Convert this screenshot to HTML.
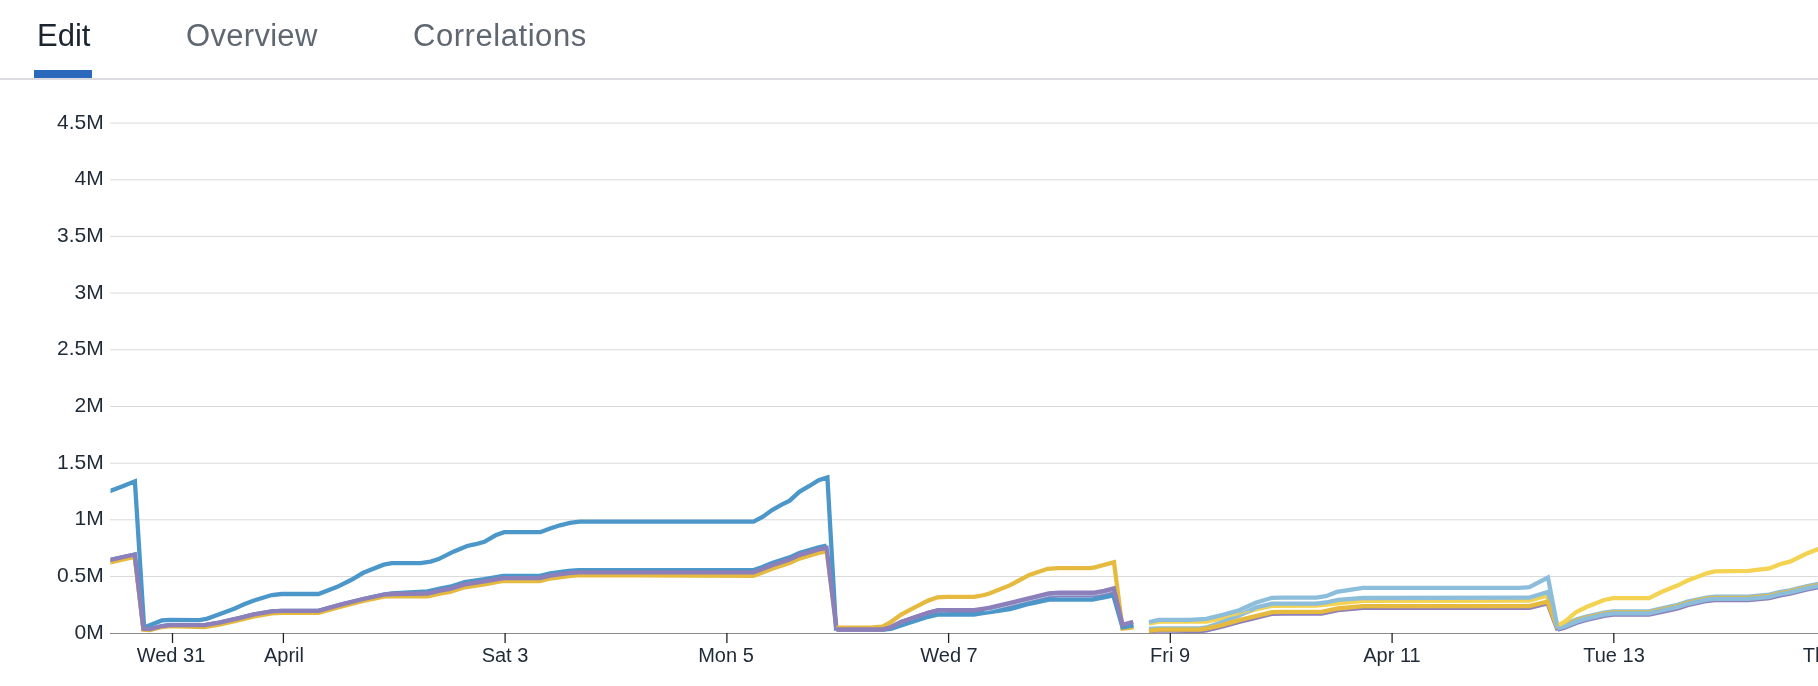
<!DOCTYPE html>
<html><head><meta charset="utf-8"><style>
html,body{margin:0;padding:0;background:#fff;width:1818px;height:686px;overflow:hidden;font-family:"Liberation Sans",sans-serif;}
.tab{will-change:transform;position:absolute;top:18px;font-size:31px;line-height:36px;letter-spacing:0.3px;color:#5f6771;white-space:nowrap}
.tab.active{color:#1a2530}
.ul{position:absolute;left:34px;top:70px;width:58px;height:8px;background:#2a69bb}
.hr{position:absolute;left:0;top:78px;width:1818px;height:2px;background:#dcdbe0}
.yl{will-change:transform;position:absolute;left:0;width:103.8px;text-align:right;font-size:21px;line-height:24px;color:#1e2a36}
.xl{will-change:transform;position:absolute;top:643px;width:200px;text-align:center;font-size:20px;line-height:24px;color:#1e2a36}
svg{position:absolute;left:0;top:0}
</style></head><body>
<div class="tab active" style="left:36.6px;letter-spacing:0">Edit</div>
<div class="tab" style="left:185.5px">Overview</div>
<div class="tab" style="left:412.8px;letter-spacing:0.55px">Correlations</div>
<div class="ul"></div>
<div class="hr"></div>
<svg width="1818" height="686" viewBox="0 0 1818 686">
<line x1="110" x2="1818" y1="576.5" y2="576.5" stroke="#dadada" stroke-width="1"/>
<line x1="110" x2="1818" y1="519.8" y2="519.8" stroke="#dadada" stroke-width="1"/>
<line x1="110" x2="1818" y1="463.2" y2="463.2" stroke="#dadada" stroke-width="1"/>
<line x1="110" x2="1818" y1="406.5" y2="406.5" stroke="#dadada" stroke-width="1"/>
<line x1="110" x2="1818" y1="349.8" y2="349.8" stroke="#dadada" stroke-width="1"/>
<line x1="110" x2="1818" y1="293.1" y2="293.1" stroke="#dadada" stroke-width="1"/>
<line x1="110" x2="1818" y1="236.4" y2="236.4" stroke="#dadada" stroke-width="1"/>
<line x1="110" x2="1818" y1="179.8" y2="179.8" stroke="#dadada" stroke-width="1"/>
<line x1="110" x2="1818" y1="123.1" y2="123.1" stroke="#dadada" stroke-width="1"/>
<defs><clipPath id="pc"><rect x="110.5" y="80" width="1720" height="560"/></clipPath></defs><g clip-path="url(#pc)">
<path d="M104.0,561.4 L110.2,560.0 L134.7,554.5 L143.4,628.6 L150.0,629.0 L161.9,626.0 L169.8,625.2 L204.5,625.2 L219.3,622.6 L239.1,618.1 L254.0,614.4 L271.8,611.3 L281.7,610.8 L318.4,610.9 L340.8,604.6 L363.3,599.0 L383.7,594.5 L391.8,593.5 L427.6,591.4 L439.9,588.5 L450.0,586.7 L464.7,582.2 L484.5,579.2 L503.3,575.9 L539.9,575.9 L550.1,573.4 L568.6,571.0 L578.5,570.1 L753.6,570.1 L762.5,566.9 L772.1,563.1 L789.7,557.4 L799.3,552.9 L818.6,547.3 L826.6,545.6" fill="none" stroke="#4c97c9" stroke-width="4.3" stroke-linejoin="miter" stroke-miterlimit="3"/>
<path d="M104.0,563.8 L110.2,562.4 L134.7,556.9 L143.4,629.6 L150.0,630.0 L161.9,627.0 L169.8,626.2 L204.5,627.2 L219.3,624.6 L239.1,620.1 L254.0,616.4 L271.8,613.3 L281.7,612.8 L318.4,612.9 L340.8,606.6 L363.3,601.0 L383.7,596.7 L391.8,596.0 L427.6,596.4 L439.9,593.6 L450.0,591.8 L464.7,587.3 L484.5,584.3 L503.3,581.0 L539.9,581.0 L550.1,578.5 L568.6,576.1 L578.5,575.2 L753.6,575.8 L762.5,572.6 L772.1,568.8 L789.7,563.1 L799.3,558.6 L818.6,553.0 L826.6,551.3 L836.5,627.3" fill="none" stroke="#e6ba3e" stroke-width="4.3" stroke-linejoin="miter" stroke-miterlimit="3"/>
<path d="M104.0,493.5 L110.2,491.1 L123.3,486.0 L134.9,481.3 L144.1,627.4 L161.9,620.4 L169.8,619.8 L199.5,620.1 L207.4,618.6 L219.3,614.2 L234.2,608.7 L244.1,604.3 L254.0,600.5 L271.8,595.0 L281.7,594.0 L318.4,594.0 L336.7,587.1 L351.0,580.0 L363.3,572.8 L383.7,564.7 L391.8,563.2 L420.4,563.2 L430.6,561.6 L438.6,559.1 L453.4,551.7 L467.1,546.0 L475.7,544.2 L484.4,541.8 L495.6,535.3 L504.2,532.2 L540.2,532.2 L550.1,528.5 L560.0,525.3 L569.9,522.8 L579.8,521.7 L753.6,521.7 L762.5,517.0 L772.1,510.0 L781.7,504.7 L789.7,500.7 L799.3,491.8 L809.0,486.2 L818.6,480.1 L827.4,477.4 L836.0,628.6 L883.5,628.6" fill="none" stroke="#4c97c9" stroke-width="4.3" stroke-linejoin="miter" stroke-miterlimit="3"/>
<path d="M104.0,561.4 L110.2,560.0 L134.7,554.5 L143.4,628.6 L150.0,629.0 L161.9,626.0 L169.8,625.2 L204.5,625.2 L219.3,622.6 L239.1,618.1 L254.0,614.4 L271.8,611.3 L281.7,610.8 L318.4,610.9 L340.8,604.6 L363.3,599.0 L383.7,594.7 L391.8,594.0 L427.6,593.5 L439.9,590.7 L450.0,588.9 L464.7,584.4 L484.5,581.4 L503.3,578.1 L539.9,578.1 L550.1,575.6 L568.6,573.2 L578.5,572.3 L753.6,572.3 L762.5,569.1 L772.1,565.3 L789.7,559.6 L799.3,555.1 L818.6,549.5 L826.6,547.8 L836.5,629.6" fill="none" stroke="#8c7fba" stroke-width="4.3" stroke-linejoin="miter" stroke-miterlimit="3"/>
<path d="M836.5,627.6 L873.0,627.5 L882.4,626.7 L890.8,622.1 L901.1,614.6 L914.2,607.6 L928.2,600.6 L937.6,597.3 L946.9,596.8 L974.0,596.8 L984.3,595.0 L990.0,593.3 L1009.7,585.4 L1029.3,574.9 L1047.7,568.8 L1058.2,568.1 L1089.7,568.1 L1094.9,567.4 L1114.0,562.2 L1122.5,628.7 L1133.6,627.4" fill="none" stroke="#e6ba3e" stroke-width="4.3" stroke-linejoin="miter" stroke-miterlimit="3"/>
<path d="M836.5,629.6 L883.3,629.6 L890.8,627.2 L901.1,622.1 L914.2,617.4 L928.2,612.7 L938.5,610.1 L974.0,611.7 L984.3,610.6 L990.0,610.0 L1013.5,604.8 L1048.7,596.2 L1059.2,595.4 L1094.4,595.4 L1104.1,593.7 L1113.8,591.2" fill="none" stroke="#8c7fba" stroke-width="4.3" stroke-linejoin="miter" stroke-miterlimit="3"/>
<path d="M883.3,629.6 L890.8,628.8 L901.1,625.4 L914.2,621.2 L928.2,616.8 L938.5,614.5 L974.0,614.5 L984.3,612.9 L990.0,612.2 L1009.7,609.2 L1029.3,603.8 L1049.0,599.6 L1092.3,599.6 L1104.1,597.4 L1113.3,595.3 L1122.5,627.4 L1133.6,625.4" fill="none" stroke="#4c97c9" stroke-width="4.3" stroke-linejoin="miter" stroke-miterlimit="3"/>
<path d="M984.3,611.1 L990.0,610.3 L1013.5,604.6 L1048.7,596.0 L1059.2,595.2 L1094.4,595.2 L1104.1,593.5 L1113.8,591.0" fill="none" stroke="#a9c9e2" stroke-width="1" />
<path d="M836.5,629.6 L883.3,629.6 L890.8,627.2 L901.1,622.1 L914.2,617.4 L928.2,612.7 L938.5,610.1 L974.0,610.1 L984.3,608.5 L990.0,607.7 L1013.5,602.0 L1048.7,593.4 L1059.2,592.6 L1094.4,592.6 L1104.1,590.9 L1113.8,588.4 L1122.6,624.9 L1133.2,621.8" fill="none" stroke="#8c7fba" stroke-width="4.3" stroke-linejoin="miter" stroke-miterlimit="3"/>
<path d="M1149.0,631.4 L1158.8,630.3 L1200.0,631.2 L1206.4,630.4 L1222.8,626.5 L1239.2,621.9 L1255.6,617.9 L1272.0,613.9 L1283.0,613.6 L1321.5,613.6 L1338.0,610.2 L1363.0,607.9 L1529.4,607.9 L1547.5,603.3 L1557.6,630.2" fill="none" stroke="#8c7fba" stroke-width="4.3" stroke-linejoin="miter" stroke-miterlimit="3"/>
<path d="M1149.0,623.6 L1158.8,621.7 L1190.0,621.7 L1206.4,621.6 L1222.8,618.2 L1239.2,614.3 L1255.6,609.5 L1272.0,605.8 L1316.0,605.5 L1326.0,604.7 L1363.0,600.8 L1529.4,600.6 L1546.6,595.6 L1557.6,625.6" fill="none" stroke="#f5d352" stroke-width="4.3" stroke-linejoin="miter" stroke-miterlimit="3"/>
<path d="M1149.0,629.0 L1158.8,628.3 L1200.0,628.3 L1206.4,627.5 L1222.8,622.0 L1239.2,615.5 L1255.6,607.5 L1272.0,603.7 L1316.0,603.7 L1326.0,602.5 L1338.0,599.8 L1363.0,598.0 L1529.4,597.6 L1548.0,592.0 L1557.6,628.1" fill="none" stroke="#8cbedc" stroke-width="4.3" stroke-linejoin="miter" stroke-miterlimit="3"/>
<path d="M1200.0,621.6 L1206.4,621.6 L1222.8,618.2 L1239.2,614.3 L1250.0,611.0" fill="none" stroke="#f5d352" stroke-width="1.2" />
<path d="M1149.0,630.8 L1158.8,629.7 L1200.0,629.5 L1206.4,628.7 L1222.8,624.8 L1239.2,620.2 L1255.6,616.2 L1272.0,612.2 L1283.0,611.9 L1321.5,611.9 L1338.0,608.5 L1363.0,606.2 L1529.4,606.2 L1547.5,601.6 L1557.6,628.5" fill="none" stroke="#e6ba3e" stroke-width="4.3" stroke-linejoin="miter" stroke-miterlimit="3"/>
<path d="M1149.0,622.0 L1158.8,619.9 L1190.0,619.9 L1206.4,618.9 L1222.8,614.9 L1239.2,610.3 L1255.6,602.8 L1272.0,597.8 L1283.0,597.7 L1316.0,597.7 L1325.9,596.2 L1336.9,591.9 L1363.0,587.8 L1519.8,587.8 L1529.4,587.2 L1548.0,577.6 L1557.6,628.1" fill="none" stroke="#8cbedc" stroke-width="4.3" stroke-linejoin="miter" stroke-miterlimit="3"/>
<path d="M1557.4,629.6 L1564.5,627.7 L1576.9,622.7 L1586.5,619.9 L1604.1,615.9 L1613.0,614.7 L1649.0,614.7 L1661.9,611.8 L1677.9,608.3 L1687.5,605.1 L1706.7,601.0 L1714.8,600.1 L1748.4,600.1 L1769.3,598.1 L1780.5,595.3 L1790.1,593.7 L1806.2,589.7 L1820.0,587.0" fill="none" stroke="#8c7fba" stroke-width="4.3" stroke-linejoin="miter" stroke-miterlimit="3"/>
<path d="M1557.4,626.2 L1564.5,624.3 L1576.9,619.3 L1586.5,616.5 L1604.1,612.5 L1613.0,611.3 L1649.0,611.3 L1661.9,608.4 L1677.9,604.9 L1687.5,601.7 L1706.7,597.6 L1714.8,596.7 L1748.4,596.7 L1769.3,594.7 L1780.5,591.9 L1790.1,590.3 L1806.2,586.3 L1820.0,583.6" fill="none" stroke="#8cbedc" stroke-width="4.3" stroke-linejoin="miter" stroke-miterlimit="3"/>
<path d="M1557.4,627.3 L1564.5,625.4 L1576.9,620.4 L1586.5,617.6 L1604.1,613.6 L1613.0,612.4 L1649.0,612.4 L1661.9,609.5 L1677.9,606.0 L1687.5,602.8 L1706.7,598.7 L1714.8,597.8 L1748.4,597.8 L1769.3,595.8 L1780.5,593.0 L1790.1,591.4 L1806.2,587.4 L1820.0,584.7" fill="none" stroke="#e6ba3e" stroke-width="4.3" stroke-linejoin="miter" stroke-miterlimit="3"/>
<path d="M1557.4,628.3 L1564.5,626.4 L1576.9,621.4 L1586.5,618.6 L1604.1,614.6 L1613.0,613.4 L1649.0,613.4 L1661.9,610.5 L1677.9,607.0 L1687.5,603.8 L1706.7,599.7 L1714.8,598.8 L1748.4,598.8 L1769.3,596.8 L1780.5,594.0 L1790.1,592.4 L1806.2,588.4 L1820.0,585.7" fill="none" stroke="#8cbedc" stroke-width="4.3" stroke-linejoin="miter" stroke-miterlimit="3"/>
<path d="M1558.9,625.0 L1565.5,621.2 L1575.9,612.2 L1586.5,607.0 L1604.1,600.0 L1613.0,598.1 L1649.0,598.1 L1661.9,591.7 L1677.9,585.3 L1687.5,580.5 L1697.1,577.0 L1706.7,573.3 L1714.8,571.4 L1748.4,570.9 L1769.3,568.5 L1780.5,564.0 L1790.1,561.7 L1806.2,553.7 L1820.0,548.3" fill="none" stroke="#f5d352" stroke-width="4.3" stroke-linejoin="miter" stroke-miterlimit="3"/>
</g>
<line x1="110" x2="1818" y1="633.5" y2="633.5" stroke="#8a8a8a" stroke-width="1"/>
<line x1="172.5" x2="172.5" y1="633" y2="643" stroke="#222" stroke-width="1.3"/>
<line x1="283.4" x2="283.4" y1="633" y2="643" stroke="#222" stroke-width="1.3"/>
<line x1="505.1" x2="505.1" y1="633" y2="643" stroke="#222" stroke-width="1.3"/>
<line x1="726.9" x2="726.9" y1="633" y2="643" stroke="#222" stroke-width="1.3"/>
<line x1="948.6" x2="948.6" y1="633" y2="643" stroke="#222" stroke-width="1.3"/>
<line x1="1170.3" x2="1170.3" y1="633" y2="643" stroke="#222" stroke-width="1.3"/>
<line x1="1392.1" x2="1392.1" y1="633" y2="643" stroke="#222" stroke-width="1.3"/>
<line x1="1613.8" x2="1613.8" y1="633" y2="643" stroke="#222" stroke-width="1.3"/>
<line x1="1835.6" x2="1835.6" y1="633" y2="643" stroke="#222" stroke-width="1.3"/>
</svg>
<div class="yl" style="top:619.6px">0M</div><div class="yl" style="top:562.9px">0.5M</div><div class="yl" style="top:506.2px">1M</div><div class="yl" style="top:449.6px">1.5M</div><div class="yl" style="top:392.9px">2M</div><div class="yl" style="top:336.2px">2.5M</div><div class="yl" style="top:279.5px">3M</div><div class="yl" style="top:222.8px">3.5M</div><div class="yl" style="top:166.2px">4M</div><div class="yl" style="top:109.5px">4.5M</div>
<div class="xl" style="left:71.3px">Wed 31</div><div class="xl" style="left:183.9px">April</div><div class="xl" style="left:405.1px">Sat 3</div><div class="xl" style="left:626.4px">Mon 5</div><div class="xl" style="left:848.6px">Wed 7</div><div class="xl" style="left:1070.3px">Fri 9</div><div class="xl" style="left:1292.1px">Apr 11</div><div class="xl" style="left:1513.8px">Tue 13</div><div class="xl" style="left:1734.3px">Thu 15</div>
</body></html>
